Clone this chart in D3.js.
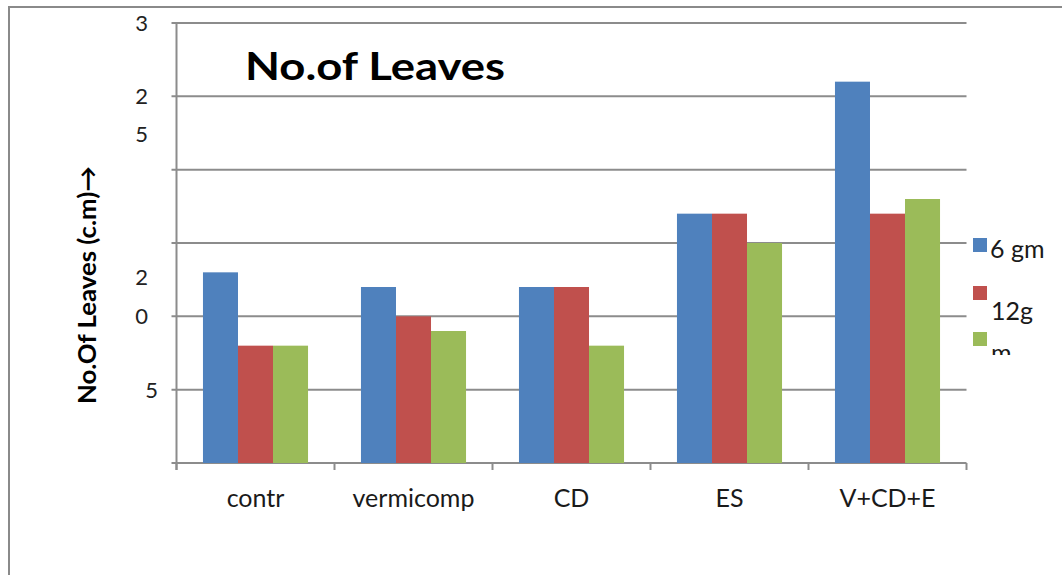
<!DOCTYPE html>
<html><head><meta charset="utf-8">
<script src="https://cdn.jsdelivr.net/npm/d3@7"></script>
<style>body{margin:0;background:#fff;}svg{display:block;}</style>
</head><body><svg id="c" width="1062" height="575"></svg>
<script>
const categories = ["contr", "vermicomp", "CD", "ES", "V+CD+E"];
const seriesNames = ["6 gm", "12g", "m"];
const values6gm = [13, 12, 12, 17, 26];
const values12g = [8, 10, 12, 17, 17];
const valuesM = [8, 9, 8, 15, 18];
const yTicks = [0, 5, 10, 15, 20, 25, 30];
// garbled tick labels as printed in the reference, with the value level each sits at
const yLabelText = ["3", "2", "5", "2", "0", "5"];
const yLabelLevel = [30, 25, 22.4, 12.7, 10, 5];
const colors = ["#4f81bd", "#c0504d", "#9bbb59"];

const svg = d3.select("#c");
const font = "Lato, 'Open Sans', sans-serif";
const pLeft = 176.5, pRight = 966.5, pTop = 23, pBottom = 463;

// outer frame
svg.append("rect").attr("x", 9).attr("y", 7).attr("width", 1100).attr("height", 600)
  .attr("fill", "none").attr("stroke", "#8a8a8a").attr("stroke-width", 2);

const x = d3.scaleBand().domain(categories).range([pLeft, pRight]).paddingInner(0.335).paddingOuter(0.1675);
const xs = d3.scaleBand().domain(seriesNames).range([0, x.bandwidth()]);
const y = d3.scaleLinear().domain([0, 30]).range([pBottom, pTop]);

// gridlines
svg.append("g").selectAll("line").data(yTicks).join("line")
  .attr("x1", pLeft - 5).attr("x2", pRight).attr("y1", d => y(d)).attr("y2", d => y(d))
  .attr("stroke", "#8c8c8c").attr("stroke-width", 2);

// bars
const series = [values6gm, values12g, valuesM];
const g = svg.append("g");
categories.forEach((c, i) => {
  series.forEach((vals, s) => {
    g.append("rect")
      .attr("x", x(c) + xs(seriesNames[s]))
      .attr("y", y(vals[i]))
      .attr("width", xs.bandwidth())
      .attr("height", y(0) - y(vals[i]))
      .attr("fill", colors[s]);
  });
});

// y axis line
svg.append("line").attr("x1", pLeft).attr("x2", pLeft).attr("y1", pTop).attr("y2", pBottom + 7)
  .attr("stroke", "#8c8c8c").attr("stroke-width", 2);
// x ticks
const tickX = categories.map(c => x(c) - x.step() * x.paddingInner() / 2).concat([pRight]);
svg.append("g").selectAll("line").data(tickX).join("line")
  .attr("x1", d => d).attr("x2", d => d).attr("y1", pBottom).attr("y2", pBottom + 7)
  .attr("stroke", "#8c8c8c").attr("stroke-width", 2);

// y labels (garbled as in source)
svg.append("g").selectAll("text").data(yLabelText).join("text")
  .attr("x", (d, i) => i === 5 ? 158 : 148)
  .attr("y", (d, i) => y(yLabelLevel[i]) + 8)
  .attr("text-anchor", "end")
  .attr("font-family", font).attr("font-size", 22).attr("fill", "#222")
  .text(d => d);

// x labels
svg.append("g").selectAll("text").data(categories).join("text")
  .attr("x", d => x(d) + x.bandwidth() / 2).attr("y", 507)
  .attr("text-anchor", "middle").attr("font-family", font).attr("font-size", 25).attr("fill", "#1a1a1a")
  .text(d => d);

// title
svg.append("text").attr("x", 245).attr("y", 80).attr("font-family", font).attr("font-weight", "bold")
  .attr("font-size", 38).attr("fill", "#000").attr("textLength", 260).attr("lengthAdjust", "spacingAndGlyphs")
  .text("No.of Leaves");

// y axis title
svg.append("text").attr("transform", "translate(96,285) rotate(-90)")
  .attr("text-anchor", "middle").attr("font-family", font).attr("font-weight", "bold")
  .attr("font-size", 24).attr("fill", "#000").attr("textLength", 238).attr("lengthAdjust", "spacingAndGlyphs")
  .text("No.Of Leaves (c.m)\u2192");

// legend
const clip = svg.append("defs").append("clipPath").attr("id", "lc");
clip.append("rect").attr("x", 960).attr("y", 220).attr("width", 110).attr("height", 135);
const lg = svg.append("g").attr("clip-path", "url(#lc)");
const sqY = [238, 286, 332];
const txY = [258, 320, 362];
seriesNames.forEach((n, i) => {
  lg.append("rect").attr("x", 973).attr("y", sqY[i]).attr("width", 14).attr("height", 14).attr("fill", colors[i]);
  lg.append("text").attr("x", i === 0 ? 990 : 991).attr("y", txY[i])
    .attr("font-family", font).attr("font-size", 25).attr("fill", "#1a1a1a").text(n);
});
</script></body></html>
